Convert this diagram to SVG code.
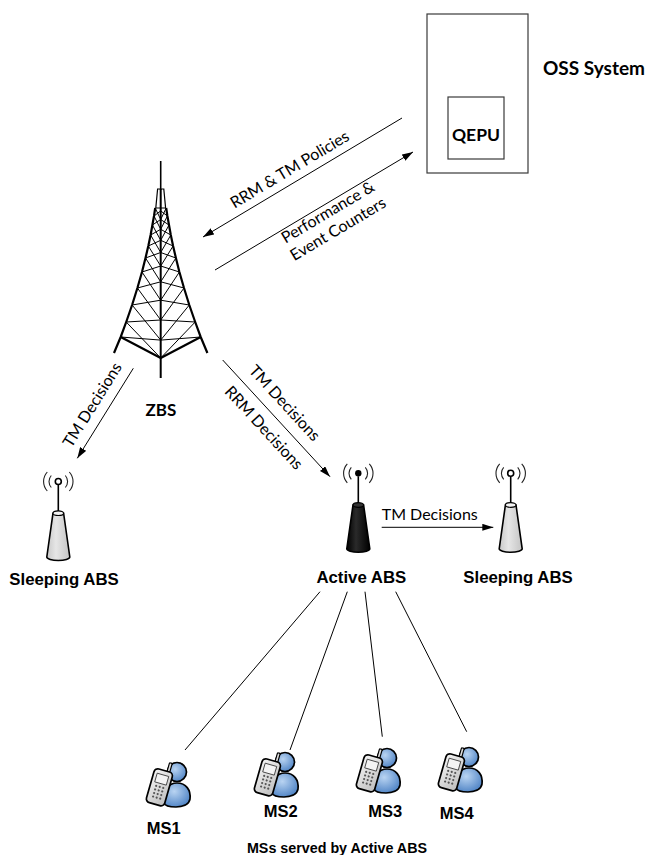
<svg xmlns="http://www.w3.org/2000/svg" width="648" height="855" viewBox="0 0 648 855">
  <style>
    .cal { font-family: Lato, "Open Sans", "Liberation Sans", sans-serif; fill: #000; }
    .lbl { font-family: "Liberation Sans", Arial, sans-serif; font-weight: bold; fill: #000; }
    .edge { fill: none; stroke: #000; stroke-width: 1; }
    .arrow { marker-end: url(#ah); }
    .box { fill: #fff; stroke: #3a3a3a; stroke-width: 1.2; }
    .leg { fill: none; stroke: #000; stroke-width: 2.2; stroke-linejoin: round; }
    .lattice { fill: none; stroke: #000; stroke-width: 1; }
    .wave { fill: none; stroke: #222; stroke-width: 1.1; }
    .mast { stroke: #000; stroke-width: 1.6; }
  </style>
  <defs>
    <marker id="ah" viewBox="0 0 11 7" refX="11" refY="3.5" markerWidth="11" markerHeight="7" markerUnits="userSpaceOnUse" orient="auto" preserveAspectRatio="none">
      <path d="M0,0 L11,3.5 L0,7 z" fill="#000"/>
    </marker>
    <linearGradient id="darkBody" x1="0" y1="0" x2="1" y2="0">
      <stop offset="0" stop-color="#000"/>
      <stop offset="0.4" stop-color="#2a2a2a"/>
      <stop offset="1" stop-color="#000"/>
    </linearGradient>
    <linearGradient id="lightBody" x1="0" y1="0" x2="1" y2="0">
      <stop offset="0" stop-color="#c8c8c8"/>
      <stop offset="0.4" stop-color="#e6e6e6"/>
      <stop offset="1" stop-color="#c4c4c4"/>
    </linearGradient>
    <radialGradient id="blue" cx="0.4" cy="0.35" r="0.7">
      <stop offset="0" stop-color="#b9d4f2"/>
      <stop offset="1" stop-color="#4d82c4"/>
    </radialGradient>
    <linearGradient id="phone" x1="0" y1="0" x2="1" y2="1">
      <stop offset="0" stop-color="#f6f6f6"/>
      <stop offset="1" stop-color="#bdbdbd"/>
    </linearGradient>
    <!-- mobile station: user with handset -->
    <g id="ms-icon">
      <path d="M16,46 C14,33 21,26 29,26 C38,26 43,33 42,42 C41,48 34,50 28,50 C21,50 17,49 16,46 Z" fill="url(#blue)" stroke="#000" stroke-width="1.7"/>
      <circle cx="29" cy="15" r="9.5" fill="url(#blue)" stroke="#000" stroke-width="1.7"/>
      <g transform="rotate(16 12 30)">
        <rect x="14.5" y="4" width="2.8" height="11" rx="1" fill="#ddd" stroke="#000" stroke-width="1.2"/>
        <rect x="2" y="13" width="19" height="35" rx="4" fill="url(#phone)" stroke="#000" stroke-width="1.7"/>
        <rect x="5.5" y="17.5" width="12" height="9" fill="#f4f4f4" stroke="#333" stroke-width="0.8"/>
        <g fill="#555">
          <circle cx="8" cy="30" r="1.1"/><circle cx="11.7" cy="30" r="1.1"/><circle cx="15.4" cy="30" r="1.1"/>
          <circle cx="8" cy="33.7" r="1.1"/><circle cx="11.7" cy="33.7" r="1.1"/><circle cx="15.4" cy="33.7" r="1.1"/>
          <circle cx="8" cy="37.4" r="1.1"/><circle cx="11.7" cy="37.4" r="1.1"/><circle cx="15.4" cy="37.4" r="1.1"/>
          <circle cx="8" cy="41.1" r="1.1"/><circle cx="11.7" cy="41.1" r="1.1"/><circle cx="15.4" cy="41.1" r="1.1"/>
        </g>
      </g>
    </g>
    <!-- radio waves around an antenna tip -->
    <g id="waves">
      <path class="wave" d="M-7,-6 A9,9 0 0 0 -7,6 M-11,-9.5 A14,14 0 0 0 -11,9.5 M7,-6 A9,9 0 0 1 7,6 M11,-9.5 A14,14 0 0 1 11,9.5"/>
    </g>
  </defs>

  <rect width="648" height="855" fill="#fff"/>

  <!-- OSS system with QEPU -->
  <g id="oss">
    <rect class="box" x="427" y="14" width="101" height="159"/>
    <text class="cal" x="543" y="75" font-size="19" font-weight="bold">OSS System</text>
  </g>
  <g id="qepu">
    <rect class="box" x="448" y="97" width="56" height="62"/>
    <text class="cal" x="476" y="141" font-size="17.5" font-weight="bold" text-anchor="middle">QEPU</text>
  </g>

  <!-- ZBS lattice tower -->
  <g id="zbs">
    <line class="mast" x1="160.7" y1="161" x2="160.7" y2="190"/>
    <path d="M157.6,189 L163.8,189 L165.6,208 L155.8,208 Z" fill="none" stroke="#000" stroke-width="1.2"/>
    <line x1="160.7" y1="189" x2="160.7" y2="378" stroke="#000" stroke-width="2"/>
    <path class="leg" d="M155.2,208 L154.0,216 L152.4,225 L150.6,235 L148.3,246 L145.5,258 L142.0,272 L137.4,288 L132.1,305 L126.2,322 L120.7,337 L114,353"/>
    <path class="leg" d="M166.2,208 L167.4,216 L169.0,225 L170.8,235 L173.1,246 L175.9,258 L179.4,272 L184.0,288 L189.3,305 L195.2,322 L200.7,337 L207.4,353"/>
    <path class="leg" d="M120.7,337 L160.7,358 L200.7,337"/>
    <path class="lattice" d="M155.2,208L160.7,219.5 M160.7,210.9L154.0,216 M160.7,210.9L167.4,216 M166.2,208L160.7,219.5
      M154.0,216L160.7,229.3 M160.7,219.5L152.4,225 M160.7,219.5L169.0,225 M167.4,216L160.7,229.3
      M152.4,225L160.7,240.3 M160.7,229.3L150.6,235 M160.7,229.3L170.8,235 M169.0,225L160.7,240.3
      M150.6,235L160.7,252.5 M160.7,240.3L148.3,246 M160.7,240.3L173.1,246 M170.8,235L160.7,252.5
      M148.3,246L160.7,266 M160.7,252.5L145.5,258 M160.7,252.5L175.9,258 M173.1,246L160.7,266
      M145.5,258L160.7,281.8 M160.7,266L142.0,272 M160.7,266L179.4,272 M175.9,258L160.7,281.8
      M142.0,272L160.7,300.2 M160.7,281.8L137.4,288 M160.7,281.8L184.0,288 M179.4,272L160.7,300.2
      M137.4,288L160.7,320 M160.7,300.2L132.1,305 M160.7,300.2L189.3,305 M184.0,288L160.7,320
      M132.1,305L160.7,340.1 M160.7,320L126.2,322 M160.7,320L195.2,322 M189.3,305L160.7,340.1
      M126.2,322L160.7,358 M160.7,340.1L120.7,337 M160.7,340.1L200.7,337 M195.2,322L160.7,358"/>
    <text class="cal" x="161" y="416" font-size="17" font-weight="bold" text-anchor="middle">ZBS</text>
  </g>

  <!-- Sleeping ABS (left) -->
  <g id="abs-sleep-left" transform="translate(58.3,481.5)">
    <use href="#waves"/>
    <line class="mast" x1="0" y1="3" x2="0" y2="31"/>
    <path d="M-5.3,31.7 L-11.5,75.5 A11.5,3.5 0 0 0 11.5,75.5 L5.3,31.7 Z" fill="url(#lightBody)" stroke="#000" stroke-width="1.6"/>
    <ellipse cx="0" cy="31.7" rx="5.3" ry="2.3" fill="#f4f4f4" stroke="#000" stroke-width="1.2"/>
    <circle cx="0" cy="0" r="3" fill="#fff" stroke="#000" stroke-width="1.6"/>
    <text class="lbl" x="5.7" y="103" font-size="16.8" text-anchor="middle">Sleeping ABS</text>
  </g>

  <!-- Active ABS -->
  <g id="abs-active" transform="translate(358.3,473.3)">
    <use href="#waves"/>
    <line class="mast" x1="0" y1="3" x2="0" y2="31"/>
    <path d="M-5.3,31.7 L-11.5,75.5 A11.5,3.5 0 0 0 11.5,75.5 L5.3,31.7 Z" fill="url(#darkBody)" stroke="#000" stroke-width="1.6"/>
    <ellipse cx="0" cy="31.7" rx="5.3" ry="2.3" fill="#333" stroke="#000" stroke-width="1.2"/>
    <circle cx="0" cy="0" r="3.2" fill="#000"/>
    <text class="lbl" x="3" y="110" font-size="16.8" text-anchor="middle">Active ABS</text>
  </g>

  <!-- Sleeping ABS (right) -->
  <g id="abs-sleep-right" transform="translate(510.7,473.3)">
    <use href="#waves"/>
    <line class="mast" x1="0" y1="3" x2="0" y2="31"/>
    <path d="M-5.3,31.7 L-11.5,75.5 A11.5,3.5 0 0 0 11.5,75.5 L5.3,31.7 Z" fill="url(#lightBody)" stroke="#000" stroke-width="1.6"/>
    <ellipse cx="0" cy="31.7" rx="5.3" ry="2.3" fill="#f4f4f4" stroke="#000" stroke-width="1.2"/>
    <circle cx="0" cy="0" r="3" fill="#fff" stroke="#000" stroke-width="1.6"/>
    <text class="lbl" x="7.3" y="110" font-size="16.8" text-anchor="middle">Sleeping ABS</text>
  </g>

  <!-- Mobile stations -->
  <g id="ms1">
    <use href="#ms-icon" transform="translate(148,757)"/>
    <text class="lbl" x="163.7" y="834" font-size="16.5" text-anchor="middle">MS1</text>
  </g>
  <g id="ms2">
    <use href="#ms-icon" transform="translate(256,747)"/>
    <text class="lbl" x="280.7" y="817" font-size="16.5" text-anchor="middle">MS2</text>
  </g>
  <g id="ms3">
    <use href="#ms-icon" transform="translate(358,743)"/>
    <text class="lbl" x="385.3" y="817" font-size="16.5" text-anchor="middle">MS3</text>
  </g>
  <g id="ms4">
    <use href="#ms-icon" transform="translate(440,742)"/>
    <text class="lbl" x="456.7" y="819" font-size="16.5" text-anchor="middle">MS4</text>
  </g>
  <text class="lbl" x="337" y="853" font-size="14.3" text-anchor="middle">MSs served by Active ABS</text>

  <!-- Connectors -->
  <g id="connectors">
    <path class="edge arrow" d="M402,118 L203,237"/>
    <path class="edge arrow" d="M215,270 L413,152"/>
    <path class="edge arrow" d="M133.3,368.3 L77.3,458.3"/>
    <path class="edge arrow" d="M222.7,360 L330,476.7"/>
    <path class="edge arrow" d="M381.7,527.3 L493.3,527.3"/>
    <path class="edge" d="M320,591.7 L185,750"/>
    <path class="edge" d="M347.3,591.7 L290,750"/>
    <path class="edge" d="M365,591.7 L382.3,736.7"/>
    <path class="edge" d="M395.7,591.7 L466.7,731.7"/>

    <text class="cal" font-size="16" text-anchor="middle" transform="translate(292.5,174.1) rotate(-30.9)">RRM &amp; TM Policies</text>
    <text class="cal" font-size="16" text-anchor="middle" transform="translate(330.6,216.8) rotate(-30.8)">Performance &amp;</text>
    <text class="cal" font-size="16" text-anchor="middle" transform="translate(340.8,233.6) rotate(-30.8)">Event Counters</text>
    <text class="cal" font-size="16" text-anchor="middle" transform="translate(97,407.7) rotate(-58.1)">TM Decisions</text>
    <text class="cal" font-size="16" text-anchor="middle" transform="translate(280.6,406.7) rotate(47.4)">TM Decisions</text>
    <text class="cal" font-size="16" text-anchor="middle" transform="translate(259.8,431.4) rotate(47.4)">RRM Decisions</text>
    <text class="cal" x="381.7" y="520" font-size="16">TM Decisions</text>
  </g>
</svg>
